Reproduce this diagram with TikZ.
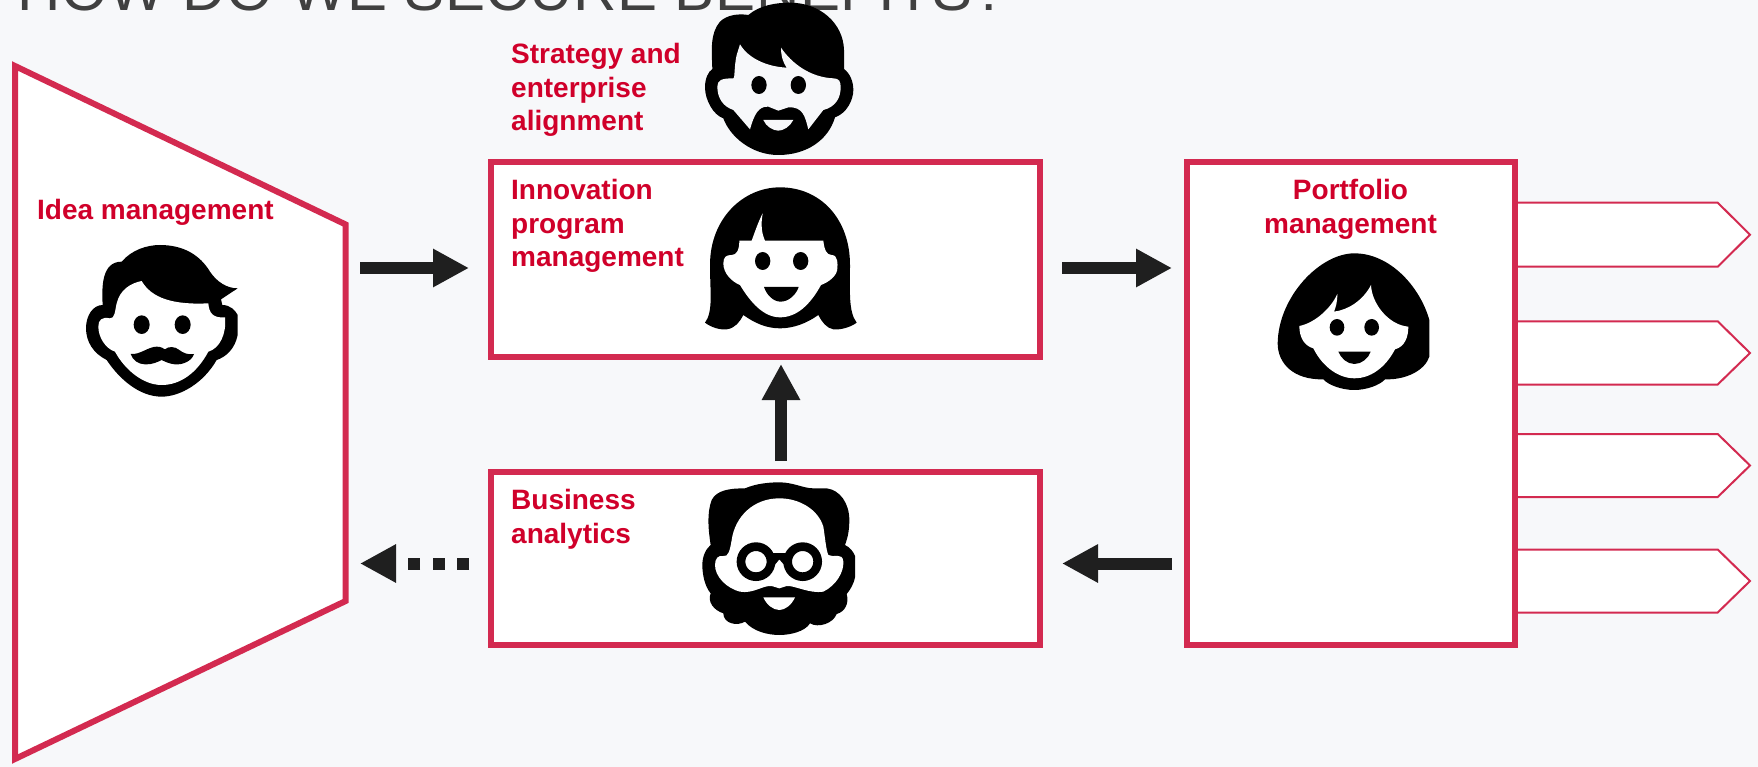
\documentclass[tikz,border=0pt]{standalone}
\usepackage{fontspec}
\setmainfont{Liberation Sans}
\newfontfamily\titlefont[LetterSpace=1.0]{Liberation Sans}
\usetikzlibrary{arrows.meta}
\definecolor{pagebg}{HTML}{F7F8FA}
\definecolor{boxred}{HTML}{D32A50}
\definecolor{labelred}{HTML}{D0002A}
\definecolor{arrowblack}{HTML}{1F1F1F}
\definecolor{titlegrey}{HTML}{404040}
\tikzset{
  framebox/.style={draw=boxred,fill=white,line width=6pt,minimum width=#1,inner sep=0pt,outer sep=0pt,rectangle},
  pentabox/.style={draw=boxred,fill=white,line width=2pt,line join=miter},
  biglabel/.style={text=labelred,font=\fontsize{28}{33.4}\selectfont\bfseries,inner sep=0pt,anchor=north west,align=left},
  bigarrow/.style={draw=arrowblack,line width=12pt,-{Triangle[length=36pt,width=36pt,fill=arrowblack]}},
  facescope/.style={x=0.33333pt,y=-0.33333pt},
}
\begin{document}
\begin{tikzpicture}[x=1pt,y=-1pt]
\useasboundingbox (0,0) rectangle (1758,767);
\clip (0,0) rectangle (1758,767);
\fill[pagebg] (0,0) rectangle (1758,767);
% title
\node[anchor=base west,inner sep=0pt,text=titlegrey,font=\fontsize{60}{64}\selectfont\titlefont] (title) at (17,11) {HOW DO WE SECURE BENEFITS?};
% funnel
\draw[draw=boxred,fill=white,line width=6pt,line join=miter]
  (15,66) coordinate (ideaTL) -- (345.7,224.5) coordinate (ideaTR) -- (345.7,601) coordinate (ideaBR) -- (15,759) coordinate (ideaBL) -- cycle;
% output pentagons
\draw[pentabox] (1516,202.7) -- (1717.7,202.7) -- (1750,234.7) coordinate (outA) -- (1717.7,266.7) -- (1516,266.7) -- cycle;
\draw[pentabox] (1516,321.3) -- (1717.7,321.3) -- (1750,353) coordinate (outB) -- (1717.7,384.5) -- (1516,384.5) -- cycle;
\draw[pentabox] (1516,434) -- (1717.7,434) -- (1750,465.5) coordinate (outC) -- (1717.7,497) -- (1516,497) -- cycle;
\draw[pentabox] (1516,549.5) -- (1717.7,549.5) -- (1750,581) coordinate (outD) -- (1717.7,612.5) -- (1516,612.5) -- cycle;
% boxes
\node[framebox=549pt,minimum height=194.5pt] (inno) at (765.5,259.7) {};
\node[framebox=549pt,minimum height=173pt] (bus) at (765.5,558.5) {};
\node[framebox=328.5pt,minimum height=482.5pt] (port) at (1351.2,403.7) {};
% arrow ends
\coordinate (a1s) at (360,268); \coordinate (a1e) at (469,268);
\coordinate (a2s) at (1062,268); \coordinate (a2e) at (1172,268);
\coordinate (a3s) at (781,461); \coordinate (a3e) at (781,364);
\coordinate (a4s) at (1172,563.5); \coordinate (a4e) at (1062,563.5);
\coordinate (a5s) at (469,563.5); \coordinate (a5e) at (360,563.5);
\draw[bigarrow] (a1s) -- (a1e);
\draw[bigarrow] (a2s) -- (a2e);
\draw[bigarrow] (a3s) -- (a3e);
\draw[bigarrow] (a4s) -- (a4e);
\draw[bigarrow,dash pattern=on 12pt off 12.5pt] (a5s) -- (a5e);
% labels
\node[biglabel] (lblIdea) at (37,199.3) {Idea management};
\node[biglabel] (lblStrat) at (511,43.3) {Strategy and\\enterprise\\alignment};
\node[biglabel] (lblInno) at (511,179.3) {Innovation\\program\\management};
\node[biglabel] (lblBus) at (511,489.3) {Business\\analytics};
\node[biglabel,anchor=north,align=center] (lblPort) at (1350.5,179.3) {Portfolio\\management};
% --- face: idea management
\begin{scope}[shift={(60,220)},facescope]
\fill[black] (185,125) .. controls (215,90) and (260,75) .. (300,75) .. controls (370,75) and (420,105) .. (450,155) .. controls (470,185) and (500,205) .. (533,205) -- (483,238) -- (487,255) .. controls (510,255) and (525,270) .. (533,285) -- (533,345) .. controls (525,385) and (500,410) .. (470,420) .. controls (430,490) and (360,530) .. (305,530) .. controls (240,530) and (180,480) .. (140,420) .. controls (100,400) and (78,365) .. (78,325) .. controls (78,285) and (100,255) .. (128,255) .. controls (125,200) and (125,125) .. (185,125) -- cycle;
\fill[white] (245,183) .. controls (275,235) and (340,255) .. (445,250) .. controls (447,280) and (460,295) .. (495,292) .. controls (500,340) and (480,385) .. (445,395) .. controls (410,460) and (360,495) .. (305,495) .. controls (250,495) and (195,450) .. (165,395) .. controls (135,385) and (115,350) .. (115,320) .. controls (115,300) and (125,290) .. (150,295) .. controls (165,297) and (165,270) .. (170,250) .. controls (180,210) and (210,190) .. (245,183) -- cycle;
\fill[black] (245,314) ellipse [x radius=24,y radius=28];
\fill[black] (368,314) ellipse [x radius=24,y radius=28];
\fill[black] (212,402) .. controls (240,405) and (265,380) .. (290,380) .. controls (303,380) and (310,385) .. (315,388) .. controls (325,378) and (345,380) .. (355,388) .. controls (370,400) and (385,405) .. (402,402) .. controls (395,425) and (365,435) .. (345,433) .. controls (330,432) and (315,425) .. (305,420) .. controls (295,425) and (275,435) .. (255,433) .. controls (235,433) and (218,420) .. (212,402) -- cycle;
\end{scope}
% --- face: strategy
\begin{scope}[shift={(680,0)},facescope]
\fill[black] (205,45) .. controls (240,15) and (290,8) .. (330,8) .. controls (420,8) and (490,70) .. (492,150) -- (492,207) .. controls (510,220) and (520,245) .. (520,270) .. controls (520,300) and (500,340) .. (465,352) .. controls (445,420) and (380,465) .. (295,465) .. controls (215,465) and (150,410) .. (130,355) .. controls (100,345) and (75,300) .. (75,262) .. controls (75,235) and (85,215) .. (97,207) .. controls (95,150) and (90,100) .. (120,65) .. controls (140,45) and (175,40) .. (205,45) -- cycle;
\fill[pagebg] (180,133) .. controls (205,175) and (260,200) .. (320,203) .. controls (305,180) and (303,160) .. (303,143) .. controls (335,190) and (390,232) .. (460,235) .. controls (478,235) and (482,245) .. (482,262) .. controls (482,290) and (470,320) .. (430,330) -- (385,388) .. controls (375,350) and (370,320) .. (325,322) -- (295,332) -- (265,320) .. controls (235,318) and (222,345) .. (210,388) -- (160,330) .. controls (130,320) and (112,295) .. (112,260) .. controls (112,240) and (125,235) .. (160,235) .. controls (165,235) and (162,200) .. (170,165) -- cycle;
\fill[black] (237,255) ellipse [x radius=23,y radius=27];
\fill[black] (355,255) ellipse [x radius=23,y radius=27];
\fill[pagebg] (250,360) -- (340,360) .. controls (330,380) and (310,392) .. (295,392) .. controls (280,392) and (258,380) .. (250,360) -- cycle;
\end{scope}
% --- face: innovation
\begin{scope}[shift={(690,175)},facescope]
\fill[black] (270,37) .. controls (390,37) and (480,130) .. (480,270) .. controls (480,350) and (475,410) .. (500,443) .. controls (480,458) and (450,465) .. (430,463) .. controls (410,460) and (395,440) .. (385,420) .. controls (350,445) and (310,460) .. (270,460) .. controls (230,460) and (195,445) .. (160,420) .. controls (150,440) and (135,460) .. (110,463) .. controls (90,465) and (65,458) .. (45,443) .. controls (70,410) and (60,350) .. (60,270) .. controls (60,130) and (160,37) .. (270,37) -- cycle;
\fill[white] (148,197) -- (185,197) .. controls (195,170) and (205,140) .. (218,115) .. controls (212,150) and (215,175) .. (225,197) -- (400,197) .. controls (403,225) and (410,240) .. (425,240) .. controls (445,240) and (443,270) .. (442,280) .. controls (442,300) and (420,320) .. (393,330) .. controls (360,390) and (320,427) .. (270,427) .. controls (220,427) and (180,380) .. (150,330) .. controls (125,320) and (100,295) .. (100,265) .. controls (100,245) and (110,240) .. (125,240) .. controls (140,240) and (148,225) .. (148,197) -- cycle;
\fill[black] (218,258) ellipse [x radius=23,y radius=27];
\fill[black] (332,258) ellipse [x radius=23,y radius=27];
\fill[black] (222,336) -- (326,336) .. controls (318,360) and (295,380) .. (272,380) .. controls (250,380) and (230,360) .. (222,336) -- cycle;
\end{scope}
% --- face: business analytics
\begin{scope}[shift={(690,470)},facescope]
\fill[black] (268,37) .. controls (310,37) and (340,55) .. (370,55) -- (410,55) .. controls (450,60) and (478,100) .. (478,150) .. controls (478,190) and (470,210) .. (465,225) .. controls (480,232) and (490,245) .. (495,258) -- (495,322) .. controls (490,345) and (480,360) .. (470,372) .. controls (478,400) and (465,425) .. (440,432) .. controls (430,460) and (385,475) .. (360,460) .. controls (345,485) and (300,495) .. (268,495) .. controls (235,495) and (190,485) .. (165,455) .. controls (140,470) and (100,460) .. (100,430) .. controls (70,420) and (52,395) .. (62,370) .. controls (45,350) and (37,315) .. (37,285) .. controls (37,255) and (50,235) .. (62,225) .. controls (55,180) and (50,130) .. (65,90) .. controls (80,60) and (120,55) .. (165,55) .. controls (200,40) and (240,37) .. (268,37) -- cycle;
\fill[white] (268,85) .. controls (330,85) and (385,120) .. (400,170) .. controls (405,200) and (408,240) .. (415,255) .. controls (430,265) and (458,245) .. (460,275) .. controls (462,305) and (440,345) .. (400,365) .. controls (360,372) and (310,345) .. (290,348) -- (268,355) -- (245,348) .. controls (220,345) and (190,372) .. (150,365) .. controls (110,355) and (75,320) .. (75,285) .. controls (75,265) and (85,255) .. (100,258) .. controls (115,262) and (120,240) .. (125,210) .. controls (135,140) and (190,85) .. (268,85) -- cycle;
\draw[black,line width=8.7pt] (198,275) circle [radius=45];
\draw[black,line width=8.7pt] (338,275) circle [radius=45];
\draw[black,line width=6pt] (245,258) -- (292,258);
\fill[black] (250,250) -- (287,250) -- (287,290) -- (268,268) -- (250,290) -- cycle;
\fill[white] (220,382) -- (315,382) .. controls (305,405) and (285,420) .. (268,420) .. controls (250,420) and (230,405) .. (220,382) -- cycle;
\end{scope}
% --- face: portfolio
\begin{scope}[shift={(1260,240)},facescope]
\fill[black] (283,40) .. controls (180,40) and (55,170) .. (53,310) .. controls (53,370) and (100,420) .. (190,418) .. controls (205,435) and (245,450) .. (283,450) .. controls (320,450) and (360,435) .. (375,418) .. controls (440,420) and (495,390) .. (508,350) -- (508,240) .. controls (480,140) and (390,40) .. (283,40) -- cycle;
\fill[white] (118,258) .. controls (160,250) and (210,210) .. (232,162) .. controls (232,185) and (228,200) .. (222,215) .. controls (265,210) and (310,180) .. (333,135) .. controls (335,190) and (385,255) .. (445,260) .. controls (445,290) and (435,320) .. (405,328) .. controls (375,385) and (330,415) .. (283,415) .. controls (240,415) and (190,385) .. (160,325) .. controls (135,318) and (118,295) .. (118,258) -- cycle;
\fill[black] (231,262) ellipse [x radius=22,y radius=25];
\fill[black] (335,262) ellipse [x radius=22,y radius=25];
\fill[black] (235,335) -- (332,335) .. controls (325,355) and (305,372) .. (283,372) .. controls (262,372) and (243,355) .. (235,335) -- cycle;
\end{scope}
\end{tikzpicture}
\end{document}
